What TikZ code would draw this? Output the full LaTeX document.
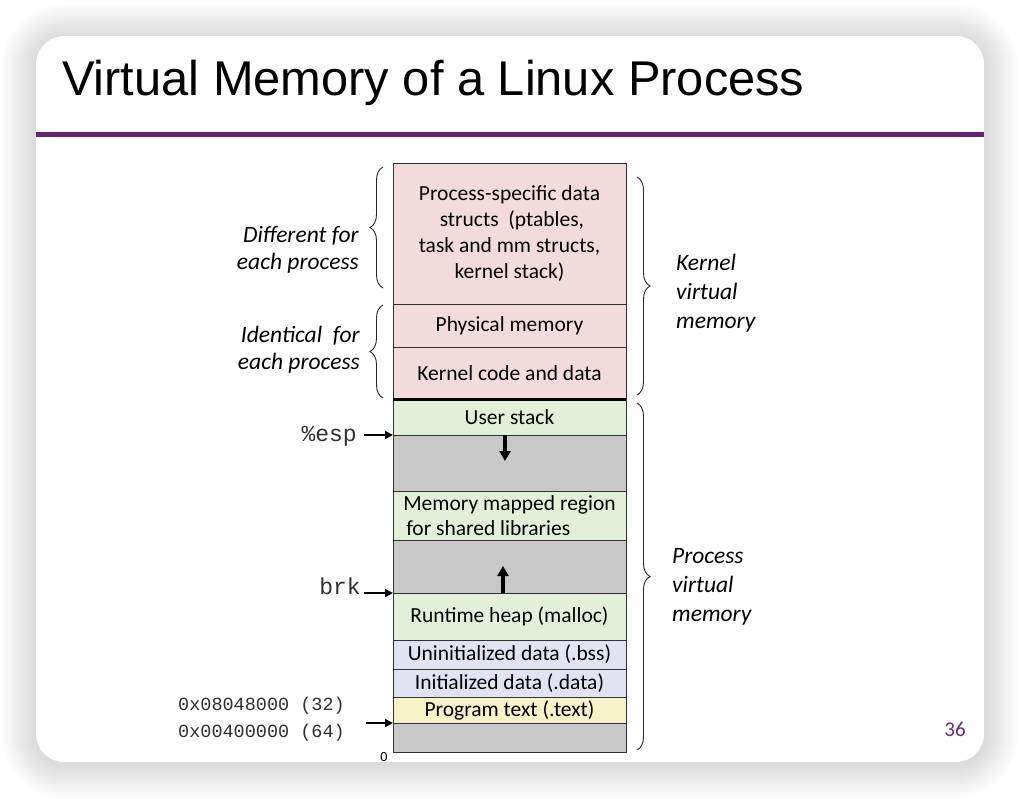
\documentclass[tikz,border=0pt]{standalone}
\usepackage{fontspec}
\setmainfont{Carlito}
\newfontfamily\titlefont{Liberation Sans}
\newfontfamily\codefont{Liberation Mono}
\usetikzlibrary{arrows.meta,decorations.pathreplacing}

\definecolor{kpink}{HTML}{F2DCDB}
\definecolor{ugreen}{HTML}{E2F0D9}
\definecolor{ugray}{HTML}{C8C8C8}
\definecolor{dlav}{HTML}{E1E3F3}
\definecolor{tyellow}{HTML}{F6F3C9}
\definecolor{rulepurple}{HTML}{68217A}
\definecolor{pagepurple}{HTML}{6B2C7E}
\definecolor{rowline}{HTML}{303030}
\definecolor{codegray}{HTML}{303030}

\begin{document}
\begin{tikzpicture}[x=1pt,y=-1pt,
  memseg/.style={draw=rowline, line width=0.9pt, minimum width=233pt,
    inner sep=0pt, outer sep=0pt, align=center,
    font=\fontsize{21.5}{26}\selectfont},
  sidelabel/.style={font=\fontsize{23.5}{27}\selectfont\itshape, inner sep=0pt},
  reglabel/.style={font=\codefont\fontsize{23}{28}\selectfont, text=codegray, inner sep=0pt},
  addrlabel/.style={font=\codefont\fontsize{18.5}{27}\selectfont, text=codegray, inner sep=0pt},
  curly/.style={decorate, decoration={brace, amplitude=13pt}, line width=0.9pt, draw=black!85},
  ptrarrow/.style={line width=2.4pt, -{Triangle[length=8pt,width=8pt]}},
  growarrow/.style={line width=3.6pt, -{Triangle[length=10pt,width=11pt]}}
]
% canvas and slide card with soft shadow
\useasboundingbox (0,0) rectangle (1020,798);
\fill[white] (0,0) rectangle (1020,798);
\foreach \i in {1,...,18}{
  \fill[black, opacity=0.008, rounded corners={28pt+2*\i pt}]
    ({36-1.9*\i},{38-1.9*\i}) rectangle ({984+1.9*\i},{764+1.9*\i});
}
\fill[white, rounded corners=28pt] (36,36) rectangle (984,762);

% title and rule
\node[anchor=base west, inner sep=0pt, font=\titlefont\fontsize{48.8}{58}\selectfont]
  (title) at (62,95) {Virtual Memory of a Linux Process};
\fill[rulepurple] (36,132) rectangle (984,137);

% address space segments, top to bottom
\node[memseg, fill=kpink,   minimum height=141pt] (pstructs) at (509.5,233.5)
  {Process-specific data\\ \ structs\ \ (ptables,\\ task and mm structs,\\ kernel stack)};
\node[memseg, fill=kpink,   minimum height=43pt] (phys)  at (509.5,325.5) {Physical memory};
\node[memseg, fill=kpink,   minimum height=52pt] (kcode) at (509.5,373) {\raisebox{-3pt}{Kernel code and data}};
\node[memseg, fill=ugreen,  minimum height=35pt] (ustack) at (509.5,417.5) {User stack};
\node[memseg, fill=ugray,   minimum height=56pt] (gapA) at (509.5,463) {};
\node[memseg, fill=ugreen,  minimum height=49pt, align=left, font=\fontsize{21.5}{25}\selectfont] (mmap) at (509.5,515.5)
  {Memory mapped region\\ \hspace{3pt}for shared libraries};
\node[memseg, fill=ugray,   minimum height=53pt] (gapB) at (509.5,566.5) {};
\node[memseg, fill=ugreen,  minimum height=47pt] (heap) at (509.5,616.5) {\raisebox{-1pt}{Runtime heap (malloc)}};
\node[memseg, fill=dlav,    minimum height=29pt] (bss)  at (509.5,654.5) {Uninitialized data (.bss)};
\node[memseg, fill=dlav,    minimum height=28pt] (data) at (509.5,683) {Initialized data (.data)};
\node[memseg, fill=tyellow, minimum height=26pt] (text) at (509.5,710) {Program text (.text)};
\node[memseg, fill=ugray,   minimum height=29pt] (gapC) at (509.5,737.5) {};

% kernel / user boundary
\draw[line width=3pt] (kcode.south west) -- (kcode.south east);

% growth directions of stack and heap
\coordinate (stackTip) at (505,461);
\coordinate (heapTip) at (503,566);
\draw[growarrow] ([xshift=-4.5pt]gapA.north) -- (stackTip);
\draw[growarrow] ([xshift=-6.5pt]heap.north) -- (heapTip);

% left-hand braces and labels
\coordinate (bA1) at (383,288); \coordinate (bA2) at (383,167);
\coordinate (bB1) at (383,398); \coordinate (bB2) at (383,305);
\draw[curly] (bA1) -- (bA2);
\draw[curly] (bB1) -- (bB2);
\node[sidelabel, anchor=east, align=right] (diff) at (359,249.5) {Different for\\each process};
\node[sidelabel, anchor=east, align=right] (ident) at (360,350) {Identical\ \ for\\each process};

% right-hand braces and labels
\coordinate (bK1) at (637,177); \coordinate (bK2) at (637,395);
\coordinate (bP1) at (637,403); \coordinate (bP2) at (637,750);
\draw[curly] (bK1) -- (bK2);
\draw[curly] (bP1) -- (bP2);
\node[sidelabel, anchor=west, align=left, font=\fontsize{23.5}{29}\selectfont\itshape] (kvm) at (676,293)
  {Kernel\\virtual\\memory};
\node[sidelabel, anchor=west, align=left, font=\fontsize{23.5}{29}\selectfont\itshape] (pvm) at (672,587)
  {Process\\virtual\\memory};

% register and address pointers
\node[reglabel, anchor=base east] (esp) at (357,441) {\%esp};
\node[reglabel, anchor=base east] (brk) at (361,594) {brk};
\node[addrlabel, anchor=base west] (a32) at (178,710) {0x08048000 (32)};
\node[addrlabel, anchor=base west] (a64) at (178,737) {0x00400000 (64)};
\coordinate (espTail) at (364,435);
\coordinate (brkTail) at (364,593);
\coordinate (addrTail) at (366,723);
\draw[ptrarrow] (espTail) -- (gapA.north west);
\draw[ptrarrow] (brkTail) -- (heap.north west);
\draw[ptrarrow] (addrTail) -- (text.south west);
\node[anchor=base, inner sep=0pt, font=\fontsize{14}{16}\selectfont] (zero) at (384,761) {0};

% slide number
\node[anchor=base, inner sep=0pt, text=pagepurple, font=\fontsize{21}{24}\selectfont] (pgno) at (955,736) {36};
\end{tikzpicture}
\end{document}
